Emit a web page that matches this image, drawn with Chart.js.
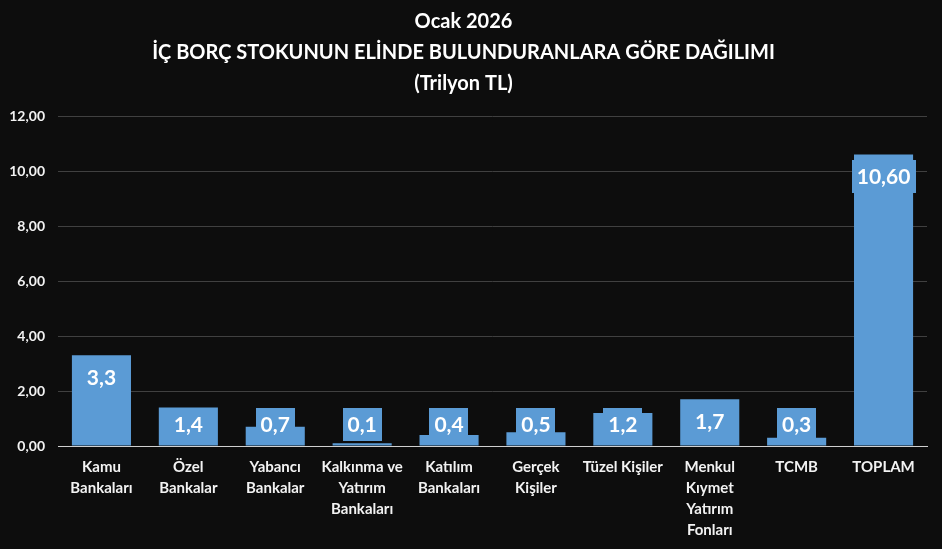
<!DOCTYPE html>
<html>
<head>
<meta charset="utf-8">
<script src="https://cdn.jsdelivr.net/npm/chart.js@4"></script>
<style>
  html, body { margin: 0; padding: 0; background: #0d0d0d; }
  #wrap { width: 942px; height: 549px; }
</style>
</head>
<body>
<div id="wrap"><canvas id="c" width="942" height="549"></canvas></div>
<script>
const categories = [
  ['Kamu', 'Bankaları'],
  ['Özel', 'Bankalar'],
  ['Yabancı', 'Bankalar'],
  ['Kalkınma ve', 'Yatırım', 'Bankaları'],
  ['Katılım', 'Bankaları'],
  ['Gerçek', 'Kişiler'],
  ['Tüzel Kişiler'],
  ['Menkul', 'Kıymet', 'Yatırım', 'Fonları'],
  ['TCMB'],
  ['TOPLAM']
];
const values = [3.3, 1.4, 0.7, 0.1, 0.4, 0.5, 1.2, 1.7, 0.3, 10.6];
const labelDecimals = [1, 1, 1, 1, 1, 1, 1, 1, 1, 2];
const titleLines = ['Ocak 2026', 'İÇ BORÇ STOKUNUN ELİNDE BULUNDURANLARA GÖRE DAĞILIMI', '(Trilyon TL)'];
const yTicks = [0, 2, 4, 6, 8, 10, 12];

const BAR = '#5b9bd5';
const FONT = 'Lato, "Open Sans", sans-serif';

const bgPlugin = {
  id: 'bg',
  beforeDraw(chart) {
    const c = chart.ctx;
    c.save();
    c.fillStyle = '#0d0d0d';
    c.fillRect(0, 0, chart.width, chart.height);
    c.restore();
  }
};

const labelPlugin = {
  id: 'valLabels',
  afterDatasetsDraw(chart) {
    const c = chart.ctx;
    const meta = chart.getDatasetMeta(0);
    const yScale = chart.scales.y;
    const zeroY = yScale.getPixelForValue(0);
    c.save();
    c.font = 'bold 21px ' + FONT;
    c.textAlign = 'center';
    c.textBaseline = 'middle';
    meta.data.forEach((bar, i) => {
      const txt = values[i].toFixed(labelDecimals[i]).replace('.', ',');
      const tw = c.measureText(txt).width;
      const bw = tw + 10;
      const bh = 33;
      let top = bar.y + 5;
      const maxTop = zeroY - bh - 5;
      if (top > maxTop) top = maxTop;
      c.fillStyle = BAR;
      c.fillRect(Math.round(bar.x - bw / 2), Math.round(top), Math.round(bw), bh);
      c.fillStyle = '#ffffff';
      c.fillText(txt, bar.x, top + bh / 2 + 1);
    });
    c.restore();
  }
};

new Chart(document.getElementById('c'), {
  type: 'bar',
  data: {
    labels: categories,
    datasets: [{
      data: values,
      backgroundColor: BAR,
      borderWidth: 0,
      barPercentage: 0.68,
      categoryPercentage: 1.0
    }]
  },
  options: {
    responsive: false,
    animation: false,
    devicePixelRatio: 1,
    layout: { padding: { left: 0, right: 15, top: 0, bottom: 0 } },
    plugins: {
      legend: { display: false },
      tooltip: { enabled: false },
      title: {
        display: true,
        text: titleLines,
        color: '#ffffff',
        font: { family: FONT, size: 20, weight: 'bold', lineHeight: 1.55 },
        padding: { top: 6, bottom: 17 }
      }
    },
    scales: {
      x: {
        grid: { display: false, drawTicks: false },
        border: { display: true, color: '#d0d0d0', width: 1 },
        ticks: {
          color: '#f2f2f2',
          font: { family: FONT, size: 15, weight: 'bold', lineHeight: 1.4 },
          padding: 11,
          maxRotation: 0,
          autoSkip: false
        },
        afterFit(scale) { scale.height = 103; }
      },
      y: {
        min: 0,
        max: 12,
        afterBuildTicks(scale) { scale.ticks = yTicks.map(v => ({ value: v })); },
        grid: {
          drawTicks: false,
          color: ctx => (ctx.tick && ctx.tick.value === 0) ? '#d0d0d0' : '#404040',
          lineWidth: 1
        },
        border: { display: false },
        ticks: {
          color: '#f2f2f2',
          font: { family: FONT, size: 14, weight: 'bold' },
          padding: 13,
          callback: v => Number(v).toFixed(2).replace('.', ',')
        },
        afterFit(scale) { scale.width = 58; }
      }
    }
  },
  plugins: [bgPlugin, labelPlugin]
});
</script>
</body>
</html>
